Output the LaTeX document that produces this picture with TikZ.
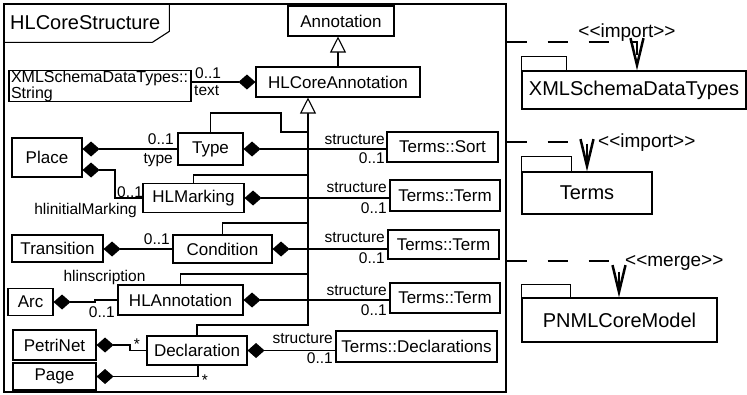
\documentclass[tikz,border=0pt]{standalone}
\usepackage{fontspec}
\setmainfont{Liberation Sans}
\usetikzlibrary{arrows.meta}

\newcommand{\clsfont}{\fontsize{17}{19}\selectfont}
\newcommand{\strfont}{\fontsize{16}{11}\selectfont}
\newcommand{\lblfont}{\fontsize{15.5}{17}\selectfont}
\newcommand{\pkgfont}{\fontsize{20}{22}\selectfont}
\newcommand{\stereofont}{\fontsize{19}{21}\selectfont}
\newcommand{\stereotype}[1]{<\kern0pt<#1>\kern0pt>}

\begin{document}
\begin{tikzpicture}[x=1pt,y=-1pt,
  cls/.style={draw, line width=1.1pt, inner sep=0pt, font=\clsfont},
  lbl/.style={inner sep=0pt, font=\lblfont},
  pkg/.style={draw, line width=1.1pt, inner sep=0pt, font=\pkgfont},
  stereo/.style={inner sep=0pt, font=\stereofont},
  comp/.style={line width=1.1pt, -{Diamond[length=17pt,width=15pt]}},
  gen/.style={line width=1.1pt, -{Triangle[length=16pt,width=16pt,fill=white]}},
  dep/.style={line width=1.1pt, dash pattern=on 20pt off 21pt,
    -{Straight Barb[length=27pt,width=13pt,line width=2.5pt]}}
]
\useasboundingbox (0,0) rectangle (747,394);

% package frame
\node[draw, line width=1.3pt, minimum width=502pt, minimum height=388pt, inner sep=0pt] (frame) at (255,198) {};
\draw[line width=1.1pt] (frame.north west) ++(0,39) -- ++(149,0) -- ++(17,-11) -- ++(0,-28);
\node[font=\pkgfont, anchor=base west, inner sep=0pt] (title) at (10,29) {HLCoreStructure};

% classes
\node[cls, minimum width=106pt, minimum height=30pt] (Annotation) at (341,21) {Annotation};
\node[cls, minimum width=164pt, minimum height=30pt] (HLCoreAnnotation) at (338,82) {HLCoreAnnotation};
\node[cls, minimum width=182pt, minimum height=28pt, text width=178pt, align=left, font=\strfont] (String) at (100,86) {XMLSchemaDataTypes::\\String};

\node[cls, minimum width=65pt, minimum height=32pt] (Type) at (210.5,149) {Type};
\node[cls, minimum width=111pt, minimum height=30pt] (TermsSort) at (442.5,147) {Terms::Sort};
\node[cls, minimum width=70pt, minimum height=39pt] (Place) at (47,157.5) {Place};

\node[cls, minimum width=101pt, minimum height=29pt] (HLMarking) at (193.5,198) {HLMarking};
\node[cls, minimum width=110pt, minimum height=31pt] (TermsTermA) at (445,195.5) {Terms::Term};

\node[cls, minimum width=91pt, minimum height=27pt] (Transition) at (57.5,248.5) {Transition};
\node[cls, minimum width=99pt, minimum height=28pt] (Condition) at (222.5,249) {Condition};
\node[cls, minimum width=111pt, minimum height=29pt] (TermsTermB) at (443.5,244.5) {Terms::Term};

\node[cls, minimum width=45pt, minimum height=27pt] (Arc) at (30.5,302) {Arc};
\node[cls, minimum width=125pt, minimum height=30pt] (HLAnnotation) at (180.5,300) {HLAnnotation};
\node[cls, minimum width=110pt, minimum height=30pt] (TermsTermC) at (445,298) {Terms::Term};

\node[cls, minimum width=83pt, minimum height=30pt] (PetriNet) at (54.5,345) {PetriNet};
\node[cls, minimum width=83pt, minimum height=27pt] (Page) at (54.5,376.5) {Page};
\node[cls, minimum width=100pt, minimum height=29pt] (Declaration) at (197,350.5) {Declaration};
\node[cls, minimum width=161pt, minimum height=31pt] (TermsDecl) at (416.5,346.5) {Terms::Declarations};

% generalizations
\draw[gen] (HLCoreAnnotation.north) -- (HLCoreAnnotation.north |- Annotation.south);

\coordinate (trunk) at (308,325);
\coordinate (brHLA) at (308,274);
\coordinate (brCond) at (308,223);
\coordinate (brHLM) at (308,175);
\coordinate (brType) at (308,132);
\draw[gen] (Declaration.north) |- (trunk) -- (trunk |- HLCoreAnnotation.south);
\draw[line width=1.1pt] (HLAnnotation.north) |- (brHLA);
\draw[line width=1.1pt] (Condition.north) |- (brCond);
\draw[line width=1.1pt] (HLMarking.north) |- (brHLM);
\draw[line width=1.1pt] (Type.north) |- (281,113) |- (brType);

% compositions
\draw[comp] (String.east |- HLCoreAnnotation.west) -- (HLCoreAnnotation.west);
\draw[comp] (TermsSort.west |- Type.east) -- (Type.east);
\draw[comp] (TermsTermA.west |- HLMarking.east) -- (HLMarking.east);
\draw[comp] (TermsTermB.west |- Condition.east) -- (Condition.east);
\draw[comp] (TermsTermC.west |- HLAnnotation.east) -- (HLAnnotation.east);
\draw[comp] (TermsDecl.west |- Declaration.east) -- (Declaration.east);

\draw[comp] (Type.west) -- (Type.west -| Place.east);
\draw[comp] (HLMarking.west) -| (115,170) -- ([yshift=-12.5pt]Place.east);
\draw[comp] (Condition.west) -- (Condition.west -| Transition.east);
\draw[comp] (HLAnnotation.west) -- (95,300) |- (Arc.east);
\draw[comp] (Declaration.west) -- (130,350.5) |- (PetriNet.east);
\draw[comp] ([xshift=1pt]Declaration.south) |- (Page.east);

% role names and multiplicities
\node[lbl, anchor=base west] (mString) at (195,78) {0..1};
\node[lbl, anchor=base west] (rString) at (194,95) {text};
\node[lbl, anchor=base east] (mType) at (174,144) {0..1};
\node[lbl, anchor=base east] (rType) at (173,163) {type};
\node[lbl, anchor=base west] (mHLM) at (117,197) {0..1};
\node[lbl, anchor=base east] (rHLM) at (137,214) {hlinitialMarking};
\node[lbl, anchor=base east] (mCond) at (170,244) {0..1};
\node[lbl, anchor=base] (rArc) at (104.5,281) {hlinscription};
\node[lbl, anchor=base east] (mArc) at (115,317) {0..1};
\node[lbl, anchor=base] (mPetriNet) at (137,349) {*};
\node[lbl, anchor=base] (mPage) at (205,385) {*};

\node[lbl, anchor=base east] (rSort) at (385,144) {structure};
\node[lbl, anchor=base east] (mSort) at (385,163) {0..1};
\node[lbl, anchor=base east] (rTermA) at (387,192) {structure};
\node[lbl, anchor=base east] (mTermA) at (387,213) {0..1};
\node[lbl, anchor=base east] (rTermB) at (385,242) {structure};
\node[lbl, anchor=base east] (mTermB) at (385,263) {0..1};
\node[lbl, anchor=base east] (rTermC) at (387,295) {structure};
\node[lbl, anchor=base east] (mTermC) at (387,315) {0..1};
\node[lbl, anchor=base east] (rDecl) at (333,343) {structure};
\node[lbl, anchor=base east] (mDecl) at (333,363) {0..1};

% imported packages
\node[pkg, minimum width=224pt, minimum height=38pt] (pkgXML) at (634,90) {XMLSchemaDataTypes};
\draw[line width=1.1pt] (pkgXML.north west) rectangle ++(45,-14);
\node[pkg, minimum width=130pt, minimum height=42pt] (pkgTerms) at (587,193) {Terms};
\draw[line width=1.1pt] (pkgTerms.north west) rectangle ++(50,-15);
\node[pkg, minimum width=195pt, minimum height=44pt] (pkgCore) at (619.5,320) {PNMLCoreModel};
\draw[line width=1.1pt] (pkgCore.north west) rectangle ++(49,-13);

\coordinate (depXML) at (637,42);
\coordinate (depTerms) at (587,142);
\coordinate (depCore) at (619,261);
\draw[dep] (frame.east |- depXML) -- (depXML) -- (depXML |- pkgXML.north);
\draw[dep] (frame.east |- depTerms) -- (depTerms) -- (pkgTerms.north);
\draw[dep] (frame.east |- depCore) -- (depCore) -- (depCore |- pkgCore.north);

\node[stereo, anchor=base] (stImportA) at (627,37) {\stereotype{import}};
\node[stereo, anchor=base west] (stImportB) at (598,147) {\stereotype{import}};
\node[stereo, anchor=base west] (stMerge) at (625,266) {\stereotype{merge}};

\end{tikzpicture}
\end{document}
